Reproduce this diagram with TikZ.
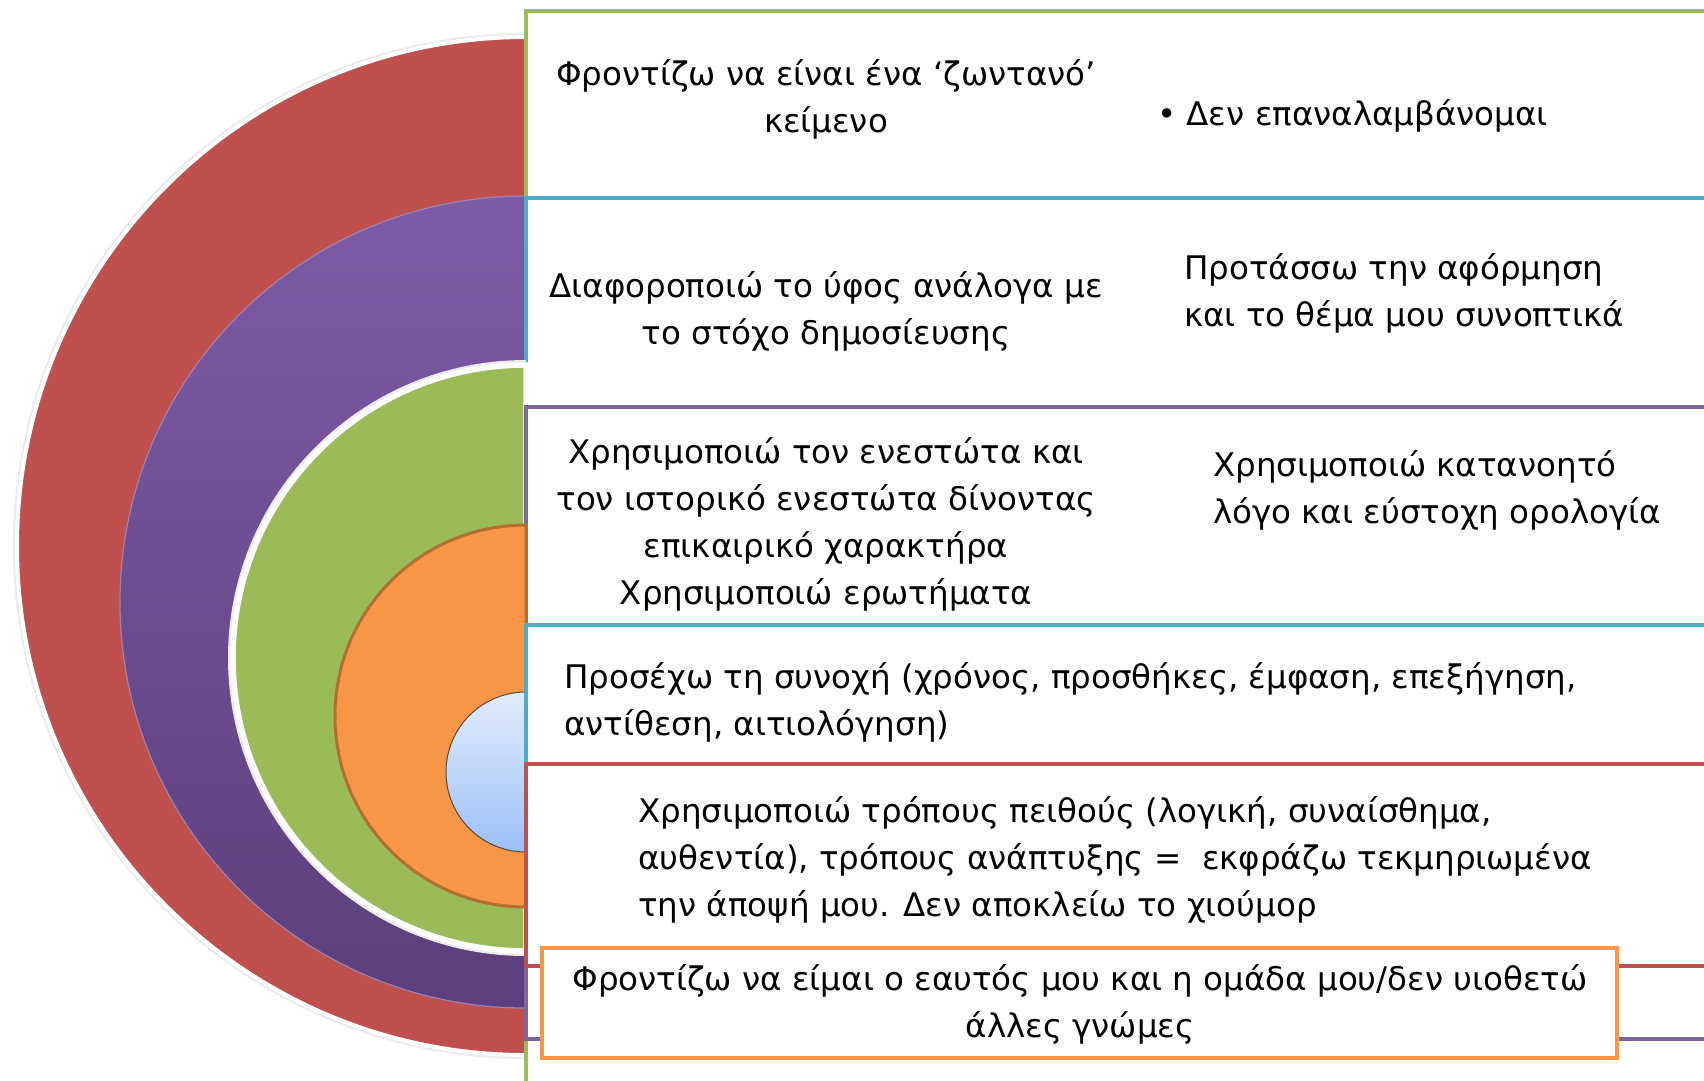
\documentclass[tikz,border=0pt]{standalone}
\usepackage{fontspec}
\setmainfont{DejaVu Sans}
\definecolor{cRed}{HTML}{C0504D}
\definecolor{cPurple}{HTML}{8064A2}
\definecolor{cGreen}{HTML}{9BBB59}
\definecolor{cBlue}{HTML}{4BACC6}
\definecolor{cOrange}{HTML}{F79646}
\definecolor{cOrangeDk}{HTML}{B66D31}
\definecolor{cPurpleTop}{HTML}{7E5CA6}
\definecolor{cPurpleBot}{HTML}{5C3F7C}
\definecolor{cSkyTop}{HTML}{E1ECFC}
\definecolor{cSkyBot}{HTML}{9DC0F8}
\begin{document}
\begin{tikzpicture}[x=1pt,y=-1pt,
  panel/.style={fill=white,line width=4.5pt},
  txt/.style={font=\fontsize{32.5}{47}\selectfont,inner sep=0pt,text=black}]
\useasboundingbox[fill=white] (0,0) rectangle (1704,1080);
% red half disc
\draw[black!8,line width=8pt] (526,37) arc[start angle=270,end angle=90,radius=509];
\draw[fill=cRed,draw=white,line width=4pt] (526,37) arc[start angle=270,end angle=90,radius=509] -- cycle;
% purple half disc
\draw[top color=cPurpleTop,bottom color=cPurpleBot,draw=cPurple!80!white,line width=1.2pt] (526,196) arc[start angle=270,end angle=90,radius=406] -- cycle;
% boxes 1 and 2
\draw[panel,draw=cGreen] (526,11) rectangle (1730,1110);
\draw[panel,draw=cBlue] (526,198) rectangle (1730,1000);
% green half disc
\draw[black!8,line width=10pt] (526,365) arc[start angle=270,end angle=90,radius=293];
\draw[fill=cGreen,draw=white,line width=5.5pt] (526,365) arc[start angle=270,end angle=90,radius=293] -- cycle;
% box 3
\draw[panel,draw=cPurple] (526,407) rectangle (1730,1039);
% orange half disc
\draw[fill=cOrange,draw=cOrangeDk,line width=3pt] (526,525) arc[start angle=270,end angle=90,radius=191] -- cycle;
% light blue half disc
\draw[top color=cSkyTop,bottom color=cSkyBot,draw=black!70,line width=1pt] (526,692) arc[start angle=270,end angle=90,radius=80] -- cycle;
% boxes 4, 5 and orange box
\draw[panel,draw=cBlue] (526,625) rectangle (1730,900);
\draw[panel,draw=cRed] (526,764) rectangle (1730,966);
\draw[panel,draw=cOrange] (542,948) rectangle (1617,1058);
% texts
\node[txt,align=center] (t1) at (826,99) {Φροντίζω να είναι ένα ‘ζωντανό’\\κείμενο};
\node[txt,anchor=west] (t2) at (1157,116) {• Δεν επαναλαμβάνομαι};
\node[txt,align=center] (t3) at (826,311) {Διαφοροποιώ το ύφος ανάλογα με\\το στόχο δημοσίευσης};
\node[txt,align=left,anchor=west] (t4) at (1184,293) {Προτάσσω την αφόρμηση\\και το θέμα μου συνοπτικά};
\node[txt,align=center] (t5) at (826,524) {Χρησιμοποιώ τον ενεστώτα και\\τον ιστορικό ενεστώτα δίνοντας\\επικαιρικό χαρακτήρα\\Χρησιμοποιώ ερωτήματα};
\node[txt,align=left,anchor=west] (t6) at (1213,490) {Χρησιμοποιώ κατανοητό\\λόγο και εύστοχη ορολογία};
\node[txt,align=left,anchor=west] (t7) at (564,702) {Προσέχω τη συνοχή (χρόνος, προσθήκες, έμφαση, επεξήγηση,\\αντίθεση, αιτιολόγηση)};
\node[txt,align=left,anchor=west] (t8) at (638,860) {Χρησιμοποιώ τρόπους πειθούς (λογική, συναίσθημα,\\αυθεντία), τρόπους ανάπτυξης =\ \ εκφράζω τεκμηριωμένα\\την άποψή μου. Δεν αποκλείω το χιούμορ};
\node[txt,align=center] (t9) at (1080,1004) {Φροντίζω να είμαι ο εαυτός μου και η ομάδα μου/δεν υιοθετώ\\άλλες γνώμες};
\end{tikzpicture}
\end{document}
